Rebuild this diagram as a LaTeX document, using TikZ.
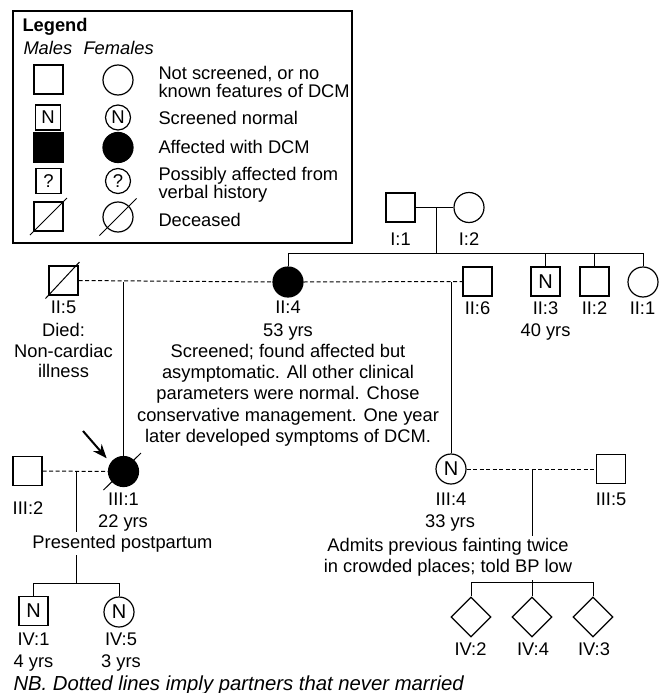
\documentclass[tikz,border=0pt]{standalone}
\usepackage{fontspec}
\setmainfont{Liberation Sans}
\usetikzlibrary{shapes.geometric,arrows.meta}
\newcommand{\pedfont}{\fontsize{18.3}{21.2}\selectfont}
\newcommand{\legfont}{\fontsize{18.3}{18}\selectfont}
\tikzset{
  male/.style={draw, rectangle, line width=1.2pt, minimum size=29pt, inner sep=0pt, font=\fontsize{20}{21}\selectfont},
  female/.style={draw, circle, line width=1.2pt, minimum size=30pt, inner sep=0pt, font=\fontsize{20}{21}\selectfont},
  unsexed/.style={draw, diamond, line width=1.2pt, minimum width=40pt, minimum height=40pt, inner sep=0pt},
  smallsym/.style={minimum size=25pt, font=\fontsize{18.5}{19}\selectfont},
  affected/.style={fill=black},
  partner/.style={dash pattern=on 4pt off 2.5pt},
  lbl/.style={anchor=base, inner sep=0pt},
  note/.style={anchor=north, align=center, inner sep=0pt},
  legtext/.style={anchor=north west, align=left, inner sep=0pt, font=\legfont},
  proband/.style={-{Stealth[length=14pt, width=11pt]}, line width=2pt, shorten >=6pt},
}
\begin{document}
\begin{tikzpicture}[x=1pt, y=-1pt, line width=1pt, font=\pedfont]
\useasboundingbox (0,0) rectangle (664,693);

\draw[line width=1.3pt] (13,11) rectangle (352,243);
\node[anchor=base west, inner sep=0pt, font=\pedfont\bfseries] (legtitle) at (22,32) {Legend};
\node[anchor=base west, inner sep=0pt, font=\pedfont\itshape] (legmales) at (23,55) {Males};
\node[anchor=base west, inner sep=0pt, font=\pedfont\itshape] (legfemales) at (83,55) {Females};

\node[male] (legm1) at (48.5,79.5) {};
\node[female] (legf1) at (118,80) {};
\node[male, smallsym] (legm2) at (48,117.5) {N};
\node[female, smallsym] (legf2) at (118,117.5) {N};
\node[male, affected] (legm3) at (48.5,147.5) {};
\node[female, affected] (legf3) at (118,147.5) {};
\node[male, smallsym] (legm4) at (48.5,181) {?};
\node[female, smallsym] (legf4) at (118,181) {?};
\node[male] (legm5) at (48.5,216.5) {};
\node[female] (legf5) at (118,217) {};
\draw ([shift={(-18.5,18.5)}]legm5.center) -- ([shift={(18.5,-18.5)}]legm5.center);
\draw ([shift={(-18.5,18.5)}]legf5.center) -- ([shift={(18.5,-18.5)}]legf5.center);

\node[legtext] (legt1) at (158,66) {Not screened, or no\\known features of DCM};
\node[legtext] (legt2) at (158,111) {Screened normal};
\node[legtext] (legt3) at (158,140) {Affected with DCM};
\node[legtext] (legt4) at (158,167) {Possibly affected from\\verbal history};
\node[legtext] (legt5) at (158,213) {Deceased};

\node[male] (I1) at (400.5,207.5) {};
\node[female] (I2) at (469,207.5) {};

\node[male] (II5) at (63.5,280.5) {};
\node[female, affected] (II4) at (288,282) {};
\node[male] (II6) at (477.5,281.5) {};
\node[male] (II3) at (545.5,281.5) {N};
\node[male] (II2) at (594.5,281.5) {};
\node[female] (II1) at (643,282) {};

\node[male] (III2) at (27.5,471) {};
\node[female, affected] (III1) at (123.5,471.5) {};
\node[female] (III4) at (451,469) {N};
\node[male] (III5) at (611,469) {};

\node[male] (IV1) at (33.5,611) {N};
\node[female] (IV5) at (119,612) {N};
\node[unsexed] (IV2) at (471,617) {};
\node[unsexed] (IV4) at (532,617) {};
\node[unsexed] (IV3) at (593,617) {};

\coordinate (I12) at (436,207.5);
\coordinate (sibII) at (436,253);
\coordinate (sibIVa) at (76,583);
\coordinate (sibIVb) at (532,582);
\coordinate (arrowtail) at (83,431);

\draw (I1.east) -- (I2.west);
\draw (I12) -- (sibII);
\draw (II4.north |- sibII) -- (II1.north |- sibII);
\foreach \k in {II4,II3,II2,II1}
  \draw (\k.north) -- (\k.north |- sibII);

\draw[partner] (II5.east) -- (II4.west);
\draw[partner] (II4.east) -- (II6.west);
\draw (III1.north |- II4.west) -- (III1.north);
\draw (III4.north |- II4.east) -- (III4.north);
\draw ([shift={(-18,18)}]II5.center) -- ([shift={(16,-18.5)}]II5.center);

\draw[partner] (III2.east) -- (III1.west);
\draw (sibIVa |- III1.west) -- (sibIVa);
\draw (IV1.north |- sibIVa) -- (IV5.north |- sibIVa);
\foreach \k in {IV1,IV5}
  \draw (\k.north) -- (\k.north |- sibIVa);
\draw ([shift={(-20,18.5)}]III1.center) -- ([shift={(17.5,-18.5)}]III1.center);
\draw[proband] (arrowtail) -- (III1.146);

\draw[partner] (III4.east) -- (III5.west);
\draw (sibIVb |- III4.east) -- (sibIVb);
\draw (IV2.north |- sibIVb) -- (IV3.north |- sibIVb);
\foreach \k in {IV2,IV4,IV3}
  \draw (\k.north) -- (\k.north |- sibIVb);

\node[lbl] (I1lbl) at (400.5,245) {I:1};
\node[lbl] (I2lbl) at (469,245) {I:2};

\node[lbl] (II5lbl) at (63.5,313) {II:5};
\node[note, font=\fontsize{18.3}{20.5}\selectfont] (II5note) at (63.5,323) {Died:\\Non-cardiac\\illness};
\node[lbl] (II4lbl) at (288,313) {II:4};
\node[note] (II4note) at (288,323) {53 yrs\\Screened; found affected but\\asymptomatic. All other clinical\\parameters were normal. Chose\\conservative management. One year\\later developed symptoms of DCM.};
\node[lbl] (II6lbl) at (477.5,314) {II:6};
\node[lbl] (II3lbl) at (545.5,314) {II:3};
\node[lbl] (II3age) at (545.5,336) {40 yrs};
\node[lbl] (II2lbl) at (594.5,314) {II:2};
\node[lbl] (II1lbl) at (642.5,314) {II:1};

\node[lbl] (III2lbl) at (28,514) {III:2};
\node[lbl] (III1lbl) at (123.5,505) {III:1};
\node[lbl] (III1age) at (123,527) {22 yrs};
\node[lbl, fill=white, inner ysep=3pt] (III1note) at (122.5,548) {Presented postpartum};
\node[lbl] (III4lbl) at (451,505) {III:4};
\node[lbl] (III5lbl) at (611,505) {III:5};
\node[lbl] (III4age) at (450,527) {33 yrs};
\node[note, fill=white, inner ysep=3pt] (III4note) at (448,535) {Admits previous fainting twice\\in crowded places; told BP low};

\node[lbl] (IV1lbl) at (33.5,645) {IV:1};
\node[lbl] (IV1age) at (33.5,667) {4 yrs};
\node[lbl] (IV5lbl) at (121,645) {IV:5};
\node[lbl] (IV5age) at (121,667) {3 yrs};
\node[lbl] (IV2lbl) at (470.5,655) {IV:2};
\node[lbl] (IV4lbl) at (533,655) {IV:4};
\node[lbl] (IV3lbl) at (594,655) {IV:3};

\node[anchor=base west, inner sep=0pt, font=\fontsize{20.3}{22}\selectfont\itshape] (nbnote) at (13,690) {NB. Dotted lines imply partners that never married};

\end{tikzpicture}
\end{document}
